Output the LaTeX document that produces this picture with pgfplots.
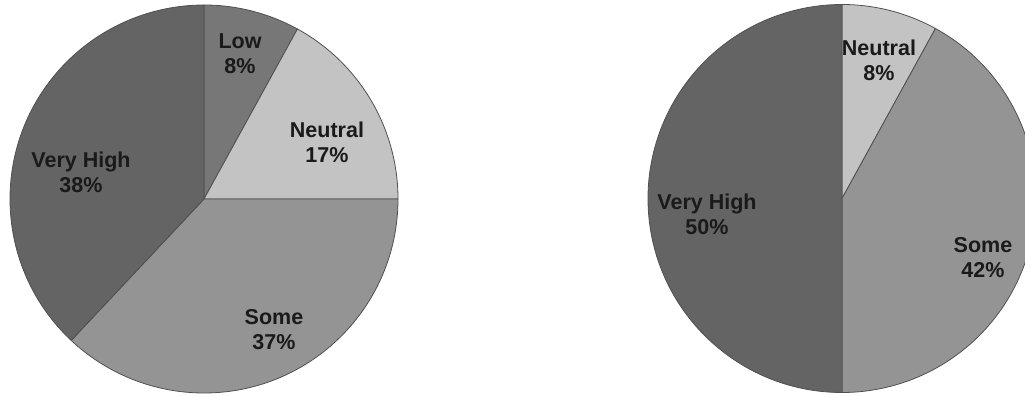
\documentclass[border=0pt]{standalone}
\usepackage{pgfplots}
\pgfplotsset{compat=1.18}
\usepackage{fontspec}
\setmainfont{Liberation Sans}

\definecolor{cVeryHigh}{HTML}{646464}
\definecolor{cLow}{HTML}{777777}
\definecolor{cNeutral}{HTML}{C3C3C3}
\definecolor{cSome}{HTML}{949494}
\definecolor{cEdge}{HTML}{505050}
\definecolor{cText}{HTML}{1A1A1A}

\tikzset{lab/.style={font=\bfseries\fontsize{21.5bp}{25bp}\selectfont,
                     text=cText, align=center, inner sep=0pt}}

% One wedge: centre x, centre y, radius, cumulative start (%), share (%), fill.
% Wedges run clockwise from 12 o'clock; 1% = 3.6 degrees.
\newcommand\slice[6]{%
  \filldraw[fill=#6, draw=cEdge, line width=0.8bp, line join=round]
    (axis cs:#1,#2)
    -- (axis cs:{#1+#3*cos(90-3.6*#4)},{#2+#3*sin(90-3.6*#4)})
    arc[start angle={90-3.6*#4}, end angle={90-3.6*(#4+#5)}, radius=#3bp]
    -- cycle;}

\begin{document}
\begin{tikzpicture}
\begin{axis}[
  width=1025bp, height=396bp, scale only axis,
  xmin=0, xmax=1025, ymin=0, ymax=396,
  hide axis, clip=true,
]
  % first pie: Low 8, Neutral 17, Some 37, Very High 38
  \slice{204}{197}{194}{0}{8}{cLow}
  \slice{204}{197}{194}{8}{17}{cNeutral}
  \slice{204}{197}{194}{25}{37}{cSome}
  \slice{204}{197}{194}{62}{38}{cVeryHigh}
  \node[lab] at (axis cs:240,342) {Low\\8\%};
  \node[lab] at (axis cs:327,254) {Neutral\\17\%};
  \node[lab] at (axis cs:81,224) {Very High\\38\%};
  \node[lab] at (axis cs:274,66) {Some\\37\%};

  % second pie: Neutral 8, Some 42, Very High 50
  \slice{842}{197.5}{194}{0}{8}{cNeutral}
  \slice{842}{197.5}{194}{8}{42}{cSome}
  \slice{842}{197.5}{194}{50}{50}{cVeryHigh}
  \node[lab] at (axis cs:879,336) {Neutral\\8\%};
  \node[lab] at (axis cs:707,182) {Very High\\50\%};
  \node[lab] at (axis cs:983,138) {Some\\42\%};
\end{axis}
\pgfresetboundingbox
\path[use as bounding box] (0,0) rectangle (1025bp,396bp);
\end{tikzpicture}
\end{document}
